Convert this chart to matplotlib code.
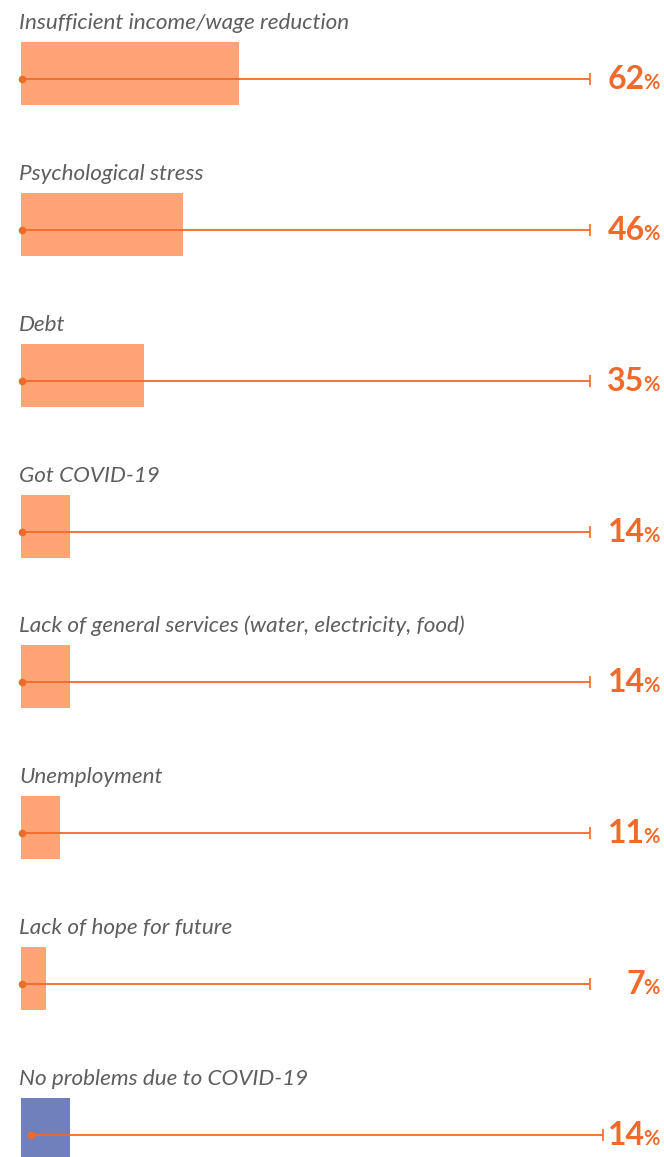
import numpy as np
from matplotlib import pyplot as plt

labels = ["Insufficient income/wage reduction", "Psychological stress", "Debt",
          "Got COVID-19", "Lack of general services (water, electricity, food)",
          "Unemployment", "Lack of hope for future", "No problems due to COVID-19"]
values = [62, 46, 35, 14, 14, 11, 7, 14]
highlight = [False, False, False, False, False, False, False, True]

W, H = 664, 1157
px_per_pct = 3.52
x0_px = 21
row_px = 150.86
first_center_px = 73.5

bar_color = '#FFA477'
blue_color = '#6F80BC'
line_color = '#F26A2A'
text_color = '#5E5E5E'

fig = plt.figure(figsize=(W / 100, H / 100), dpi=100)
ax = fig.add_axes([0, 0, 1, 1])
ax.set_xlim(-x0_px / px_per_pct, (W - x0_px) / px_per_pct)
ax.set_ylim((H - first_center_px) / row_px, -first_center_px / row_px)
ax.axis('off')

bar_h = 63 / row_px
line_off = 5.5 / row_px
line_end = (590 - x0_px) / px_per_pct
label_off = -(73.5 - 29) / row_px

for i, (lab, v, hl) in enumerate(zip(labels, values, highlight)):
    ax.barh(i, v, height=bar_h, left=0, color=blue_color if hl else bar_color, zorder=1)
    ly = i + line_off
    xs = 0.3 if not hl else 10 / px_per_pct
    xe = line_end if not hl else (603 - x0_px) / px_per_pct
    ax.plot([xs, xe], [ly, ly], color=line_color, lw=1.3, zorder=2, solid_capstyle='butt')
    ax.plot([xs], [ly], 'o', color=line_color, ms=4.5, zorder=3)
    ax.plot([xe], [ly], marker='|', color=line_color, ms=9, mew=1.2, zorder=3)
    ax.text(-2 / px_per_pct, i + label_off, lab, fontsize=16.2, fontstyle='italic',
            fontweight='normal', family='Lato', color=text_color, va='baseline', ha='left')

fig.canvas.draw()
renderer = fig.canvas.get_renderer()
x_right = (660 - x0_px) / px_per_pct
for i, v in enumerate(values):
    ty = i + line_off + 10 / row_px
    pct = ax.text(x_right, ty, '%', fontsize=14.5, fontweight='bold', family='Lato',
                  color=line_color, ha='right', va='baseline')
    bb = pct.get_window_extent(renderer)
    xl = ax.transData.inverted().transform((bb.x0 + 1, bb.y0))[0]
    ax.text(xl, ty, str(v), fontsize=23, fontweight='bold', family='Lato',
            color=line_color, ha='right', va='baseline')

plt.savefig('out.png', dpi=100)
